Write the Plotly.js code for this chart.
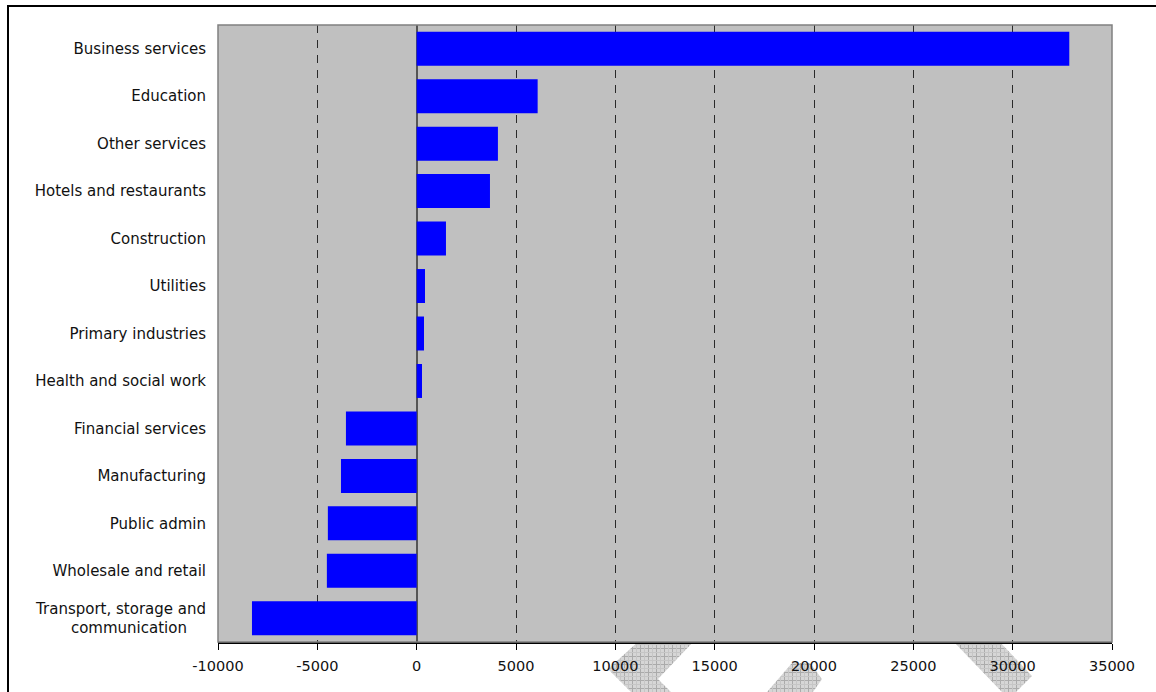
<!DOCTYPE html>
<html>
<head>
<meta charset="utf-8">
<script src="https://cdn.plot.ly/plotly-3.0.1.min.js"></script>
<style>
  html, body { margin: 0; padding: 0; background: #ffffff; overflow: hidden; }
  #wrap { position: relative; width: 1156px; height: 692px; overflow: hidden; }
  #frame { position: absolute; left: 7px; top: 5px; width: 1300px; height: 900px;
           border-left: 2px solid #000; border-top: 2px solid #000; }
  #deco { position: absolute; left: 0; top: 0; }
  #chart { position: absolute; left: 0; top: 0; width: 1156px; height: 692px; }
</style>
</head>
<body>
<div id="wrap">
  <div id="frame"></div>
  <svg id="deco" width="1156" height="692" xmlns="http://www.w3.org/2000/svg">
    <defs>
      <pattern id="mesh" width="8" height="8" patternUnits="userSpaceOnUse">
        <rect width="8" height="8" fill="#d6d6d6"/>
        <path d="M0 0.5 H8 M0.5 0 V8" stroke="#ababab" stroke-width="1"/>
        <path d="M0 4.5 H8 M4.5 0 V8" stroke="#c6c6c6" stroke-width="1"/>
      </pattern>
    </defs>
    <polygon points="640,640 695,640 658,679 671,692 631,692 608,669" fill="url(#mesh)"/>
    <polygon points="767,692 792,663 810,663 822,679 813,692" fill="url(#mesh)"/>
    <polygon points="952,640 998,640 1032,676 1016,692 1002,692" fill="url(#mesh)"/>
  </svg>
  <div id="chart"></div>
</div>
<script>
// Net change by industry, top to bottom
const industries = [
  'Business services',
  'Education',
  'Other services',
  'Hotels and restaurants',
  'Construction',
  'Utilities',
  'Primary industries',
  'Health and social work',
  'Financial services',
  'Manufacturing',
  'Public admin',
  'Wholesale and retail',
  'Transport, storage and<br>communication\u00a0\u00a0\u00a0\u00a0'
];
const netChange = [
  32850, 6090, 4090, 3690, 1475, 420, 370, 270,
  -3560, -3810, -4470, -4520, -8290
];
const xTickVals = [-10000, -5000, 0, 5000, 10000, 15000, 20000, 25000, 30000, 35000];
const xTickText = ['-10000', '-5000', '0', '5000', '10000', '15000', '20000', '25000', '30000', '35000'];

const font = 'DejaVu Sans, Verdana, sans-serif';

const trace = {
  type: 'bar',
  orientation: 'h',
  y: industries,
  x: netChange,
  marker: { color: '#0000ff', line: { width: 0 } },
  hoverinfo: 'x+y'
};

const layout = {
  width: 1156,
  height: 692,
  margin: { l: 218, r: 44, t: 25, b: 50, pad: 0 },
  paper_bgcolor: 'rgba(0,0,0,0)',
  plot_bgcolor: '#c0c0c0',
  bargap: 0.284,
  showlegend: false,
  font: { family: font, color: '#000', size: 15 },
  xaxis: {
    range: [-10000, 35000],
    tickvals: xTickVals,
    ticktext: xTickText,
    ticks: 'outside',
    ticklen: 6,
    tickwidth: 1,
    tickcolor: '#000',
    ticklabelstandoff: 4,
    showline: true,
    linecolor: '#000',
    linewidth: 1.5,
    showgrid: true,
    gridcolor: '#2a2a2a',
    gridwidth: 1,
    griddash: '8px,7px',
    zeroline: true,
    zerolinecolor: '#555555',
    zerolinewidth: 2,
    tickfont: { family: font, size: 14.5, color: '#111' },
    fixedrange: true
  },
  yaxis: {
    type: 'category',
    autorange: 'reversed',
    ticks: '',
    showgrid: false,
    zeroline: false,
    showline: false,
    ticklabelstandoff: 11,
    tickfont: { family: font, size: 15, color: '#111' },
    fixedrange: true
  },
  shapes: [
    {
      type: 'rect', xref: 'paper', yref: 'paper',
      x0: 0, x1: 1, y0: 0, y1: 1,
      line: { color: '#808080', width: 1.5 },
      layer: 'above'
    }
  ]
};

Plotly.newPlot('chart', [trace], layout, { displayModeBar: false, staticPlot: true });
</script>
</body>
</html>
